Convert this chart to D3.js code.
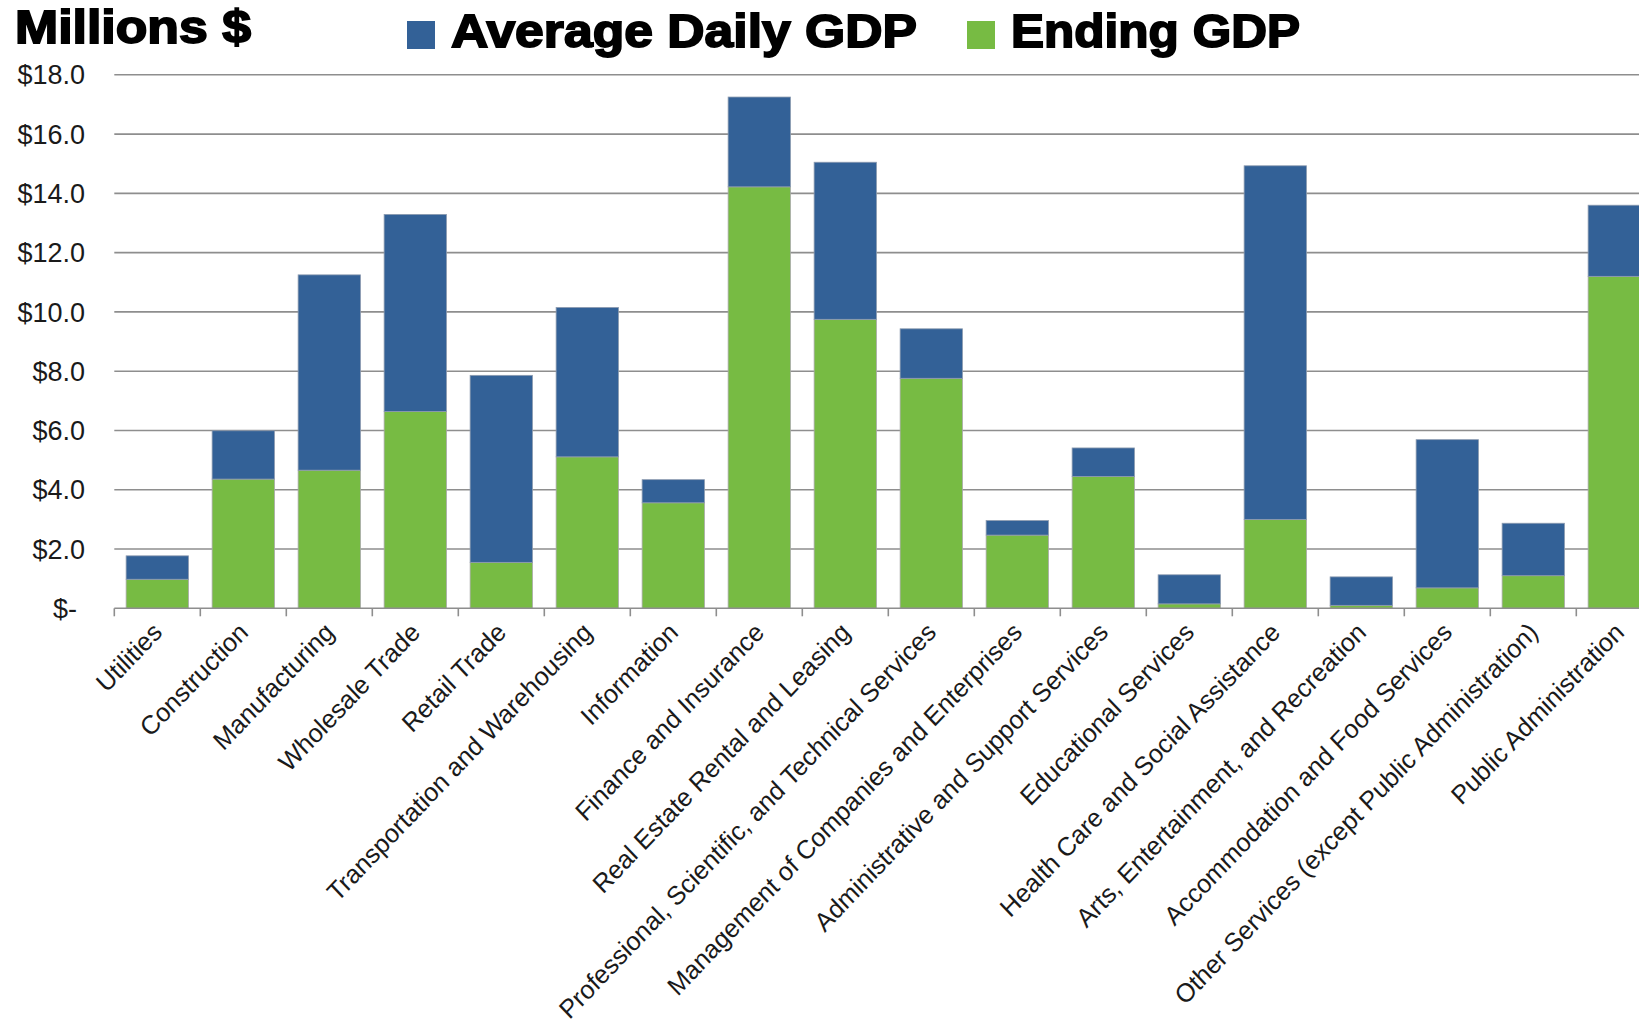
<!DOCTYPE html>
<html>
<head>
<meta charset="utf-8">
<script src="https://cdn.jsdelivr.net/npm/d3@7"></script>
<style>
  html, body { margin: 0; padding: 0; background: #fff; overflow: hidden; }
  svg { display: block; }
  text { font-family: "Liberation Sans", Arial, sans-serif; }
</style>
</head>
<body>
<svg id="chart" width="1639" height="1021"></svg>
<script>
// Industry sectors along the x axis
const categories = [
  "Utilities",
  "Construction",
  "Manufacturing",
  "Wholesale Trade",
  "Retail Trade",
  "Transportation and Warehousing",
  "Information",
  "Finance and Insurance",
  "Real Estate Rental and Leasing",
  "Professional, Scientific, and Technical Services",
  "Management of Companies and Enterprises",
  "Administrative and Support Services",
  "Educational Services",
  "Health Care and Social Assistance",
  "Arts, Entertainment, and Recreation",
  "Accommodation and Food Services",
  "Other Services (except Public Administration)",
  "Public Administration"
];

// Millions of dollars, stacked: Ending GDP at the bottom, Average Daily GDP on top
const endingGDP = [0.98, 4.36, 4.66, 6.64, 1.55, 5.11, 3.56, 14.22, 9.75, 7.76, 2.47, 4.45, 0.15, 3.00, 0.10, 0.69, 1.10, 11.20];
const averageDailyGDP = [0.79, 1.63, 6.59, 6.65, 6.31, 5.04, 0.78, 3.03, 5.30, 1.67, 0.49, 0.96, 0.98, 11.93, 0.96, 5.00, 1.77, 2.40];

const seriesNames = ["Average Daily GDP", "Ending GDP"];
const seriesColors = ["#336197", "#77BB43"];

const yTicks = [0, 2, 4, 6, 8, 10, 12, 14, 16, 18];

const svg = d3.select("#chart");
const W = 1639;

const x = d3.scaleBand()
  .domain(categories)
  .range([114.3, 1662.3])
  .paddingInner(0.275)
  .paddingOuter(0.1375);

const y = d3.scaleLinear()
  .domain([0, 18])
  .range([608.3, 74.8]);

const fmt = v => v === 0 ? "$-" : "$" + v.toFixed(1);

// Horizontal gridlines
svg.append("g")
  .selectAll("line")
  .data(yTicks.filter(d => d > 0))
  .join("line")
  .attr("x1", 114.3)
  .attr("x2", W)
  .attr("y1", d => y(d))
  .attr("y2", d => y(d))
  .attr("stroke", "#8e8e8e")
  .attr("stroke-width", 1.6);

// Y axis labels
const yAxis = d3.axisLeft(y).tickValues(yTicks).tickFormat(fmt).tickSize(0).tickPadding(0);
const gy = svg.append("g")
  .attr("transform", "translate(85,0)")
  .call(yAxis);
gy.select(".domain").remove();
gy.selectAll("text")
  .attr("font-size", 27)
  .attr("font-family", "'Liberation Sans', Arial, sans-serif")
  .attr("fill", "#1a1a1a")
  .attr("dx", d => d === 0 ? -8 : 0)
  .attr("dy", "0.34em");

// Stacked bars
const rows = categories.map((c, i) => ({ cat: c, ending: endingGDP[i], avg: averageDailyGDP[i] }));
const bars = svg.append("g");

bars.selectAll("rect.ending")
  .data(rows)
  .join("rect")
  .attr("class", "ending")
  .attr("x", d => x(d.cat))
  .attr("width", x.bandwidth())
  .attr("y", d => y(d.ending))
  .attr("height", d => y(0) - y(d.ending))
  .attr("fill", seriesColors[1])
  .attr("stroke", "#a9a9a9")
  .attr("stroke-width", 0.8);

bars.selectAll("rect.avg")
  .data(rows)
  .join("rect")
  .attr("class", "avg")
  .attr("x", d => x(d.cat))
  .attr("width", x.bandwidth())
  .attr("y", d => y(d.ending + d.avg))
  .attr("height", d => y(d.ending) - y(d.ending + d.avg))
  .attr("fill", seriesColors[0])
  .attr("stroke", "#8d9bb0")
  .attr("stroke-width", 0.8);

// X axis line and tick marks at category boundaries
const axisG = svg.append("g");
axisG.append("line")
  .attr("x1", 114.3).attr("x2", W)
  .attr("y1", y(0)).attr("y2", y(0))
  .attr("stroke", "#8e8e8e")
  .attr("stroke-width", 1.6);

const step = x.step();
const bounds = d3.range(categories.length + 1).map(i => x.range()[0] + i * step);
axisG.selectAll("line.tick")
  .data(bounds)
  .join("line")
  .attr("class", "tick")
  .attr("x1", d => d).attr("x2", d => d)
  .attr("y1", y(0)).attr("y2", y(0) + 8)
  .attr("stroke", "#8e8e8e")
  .attr("stroke-width", 1.6);

// Rotated category labels (slightly stretched vertically)
axisG.selectAll("text.cat")
  .data(categories)
  .join("text")
  .attr("class", "cat")
  .attr("transform", d => `translate(${x(d) + x.bandwidth() / 2},${y(0) + 19}) scale(1,1.05) rotate(-45)`)
  .attr("text-anchor", "end")
  .attr("dy", "0.35em")
  .attr("font-size", 25)
  .attr("fill", "#1a1a1a")
  .text(d => d);

// Unit title
svg.append("text")
  .attr("x", 15)
  .attr("y", 43)
  .attr("font-size", 46)
  .attr("font-weight", "bold")
  .attr("fill", "#000")
  .attr("stroke", "#000")
  .attr("stroke-width", 1.8)
  .attr("textLength", 236)
  .attr("lengthAdjust", "spacingAndGlyphs")
  .text("Millions $");

// Legend
const legendItems = [
  { name: seriesNames[0], color: seriesColors[0], sx: 407, tx: 451, tw: 466 },
  { name: seriesNames[1], color: seriesColors[1], sx: 967, tx: 1011, tw: 289 }
];
const lg = svg.append("g");
lg.selectAll("rect")
  .data(legendItems)
  .join("rect")
  .attr("x", d => d.sx)
  .attr("y", 21)
  .attr("width", 28)
  .attr("height", 28)
  .attr("fill", d => d.color);
lg.selectAll("text")
  .data(legendItems)
  .join("text")
  .attr("x", d => d.tx)
  .attr("y", 47)
  .attr("font-size", 47)
  .attr("font-weight", "bold")
  .attr("fill", "#000")
  .attr("stroke", "#000")
  .attr("stroke-width", 1.8)
  .attr("textLength", d => d.tw)
  .attr("lengthAdjust", "spacingAndGlyphs")
  .text(d => d.name);
</script>
</body>
</html>
